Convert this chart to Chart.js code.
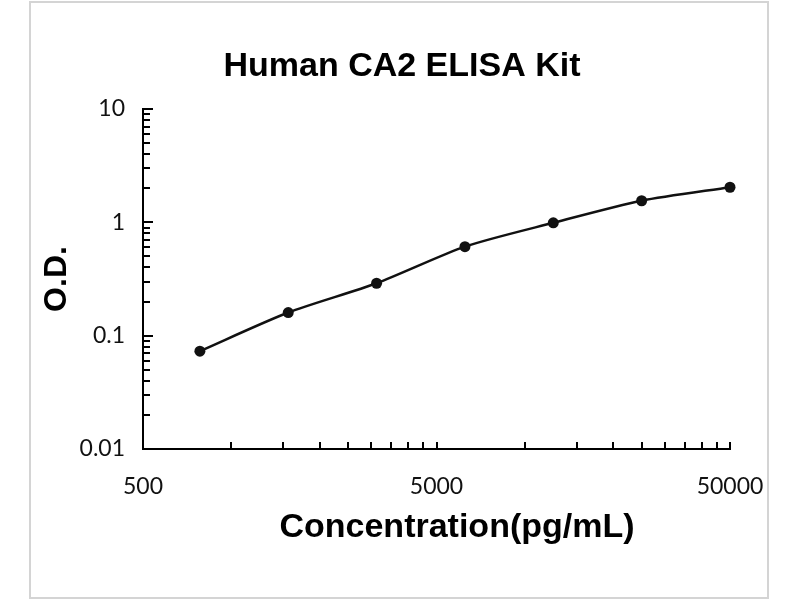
<!DOCTYPE html>
<html>
<head>
<meta charset="utf-8">
<title>Human CA2 ELISA Kit</title>
<script src="https://cdn.jsdelivr.net/npm/chart.js@4.4.1/dist/chart.umd.min.js"></script>
<style>
  html, body { margin: 0; padding: 0; background: #fff; }
  #wrap { width: 800px; height: 600px; position: relative; }
</style>
</head>
<body>
<div id="wrap"><canvas id="curve" width="800" height="600"></canvas></div>
<script>
// standard curve
const concentrations = [781.25, 1562.5, 3125, 6250, 12500, 25000, 50000];
const odValues = [0.073, 0.16, 0.29, 0.61, 0.99, 1.55, 2.04];

// labelled ticks
const xLabels = [500, 5000, 50000];
const yLabels = [0.01, 0.1, 1, 10];

// small inward tick marks (excel style)
const xMarks = [1000, 1500, 2000, 2500, 3000, 3500, 4000, 4500, 5000,
    10000, 15000, 20000, 25000, 30000, 35000, 40000, 45000, 50000];
const yMarks = [0.02, 0.03, 0.04, 0.05, 0.06, 0.07, 0.08, 0.09, 0.1,
    0.2, 0.3, 0.4, 0.5, 0.6, 0.7, 0.8, 0.9, 1,
    2, 3, 4, 5, 6, 7, 8, 9, 10];

const boldFont = '"Liberation Sans", Arial, sans-serif';

const frame = {
    id: 'frame',
    beforeDraw(chart) {
        let ctx = chart.ctx;
        ctx.save();
        ctx.fillStyle = '#fff';
        ctx.fillRect(0, 0, chart.width, chart.height);
        ctx.strokeStyle = '#d4d4d4';
        ctx.lineWidth = 2;
        ctx.strokeRect(30, 2, 738, 596);
        ctx.restore();
    }
};

const innerTicks = {
    id: 'innerTicks',
    afterDraw(chart) {
        let {ctx, scales: {x, y}} = chart;
        ctx.save();
        ctx.strokeStyle = '#000';
        ctx.lineWidth = 2;
        ctx.beginPath();
        yMarks.forEach(v => {
            let py = Math.round(y.getPixelForValue(v));
            let len = yLabels.includes(v) ? 10 : 7;
            ctx.moveTo(x.left, py);
            ctx.lineTo(x.left + len, py);
        });
        xMarks.forEach(v => {
            let px = Math.round(x.getPixelForValue(v));
            ctx.moveTo(px, y.bottom);
            ctx.lineTo(px, y.bottom - 7);
        });
        ctx.stroke();
        ctx.restore();
    }
};

// chart title + x axis title, placed like the excel original (off-centre)
const texts = {
    id: 'texts',
    afterDraw(chart) {
        let ctx = chart.ctx;
        ctx.save();
        ctx.fillStyle = '#000';
        ctx.textAlign = 'center';
        ctx.textBaseline = 'middle';
        ctx.font = 'bold 34px ' + boldFont;
        ctx.fillText('Human CA2 ELISA Kit', 402, 67);
        ctx.fillText('Concentration(pg/mL)', 457, 528);
        ctx.restore();
    }
};

const tickFont = {family: 'Lato, "Liberation Sans", sans-serif', size: 23};

new Chart(document.getElementById('curve'), {
    type: 'scatter',
    data: {
        datasets: [{
            data: concentrations.map((c, i) => ({x: c, y: odValues[i]})),
            showLine: true,
            tension: 0.25,
            borderColor: '#111',
            borderWidth: 2.5,
            pointRadius: 5.5,
            pointBackgroundColor: '#111',
            pointBorderWidth: 0,
            clip: false
        }]
    },
    options: {
        responsive: false,
        animation: false,
        layout: {padding: {left: 0, right: 70, top: 109, bottom: 0}},
        plugins: {
            legend: {display: false},
            tooltip: {enabled: false},
            title: {display: false}
        },
        scales: {
            x: {
                type: 'logarithmic',
                position: 'bottom',
                min: 500,
                max: 50000,
                grid: {display: false, drawTicks: false},
                border: {display: true, color: '#000', width: 2},
                afterBuildTicks: s => { s.ticks = xLabels.map(v => ({value: v})); },
                afterFit: s => { s.height = 151; },
                ticks: {
                    autoSkip: false,
                    maxRotation: 0,
                    padding: 24,
                    color: '#111',
                    font: tickFont,
                    callback: v => String(v)
                }
            },
            y: {
                type: 'logarithmic',
                position: 'left',
                min: 0.01,
                max: 10,
                grid: {display: false, drawTicks: false},
                border: {display: true, color: '#000', width: 2},
                afterBuildTicks: s => { s.ticks = yLabels.map(v => ({value: v})); },
                afterFit: s => { s.width = 143; },
                title: {
                    display: true,
                    text: 'O.D.',
                    color: '#000',
                    font: {family: boldFont, size: 32, weight: 'bold', lineHeight: 1.2},
                    padding: {top: 38, bottom: 0}
                },
                ticks: {
                    autoSkip: false,
                    padding: 18,
                    color: '#111',
                    font: tickFont,
                    callback: v => String(v)
                }
            }
        }
    },
    plugins: [frame, innerTicks, texts]
});
</script>
</body>
</html>
